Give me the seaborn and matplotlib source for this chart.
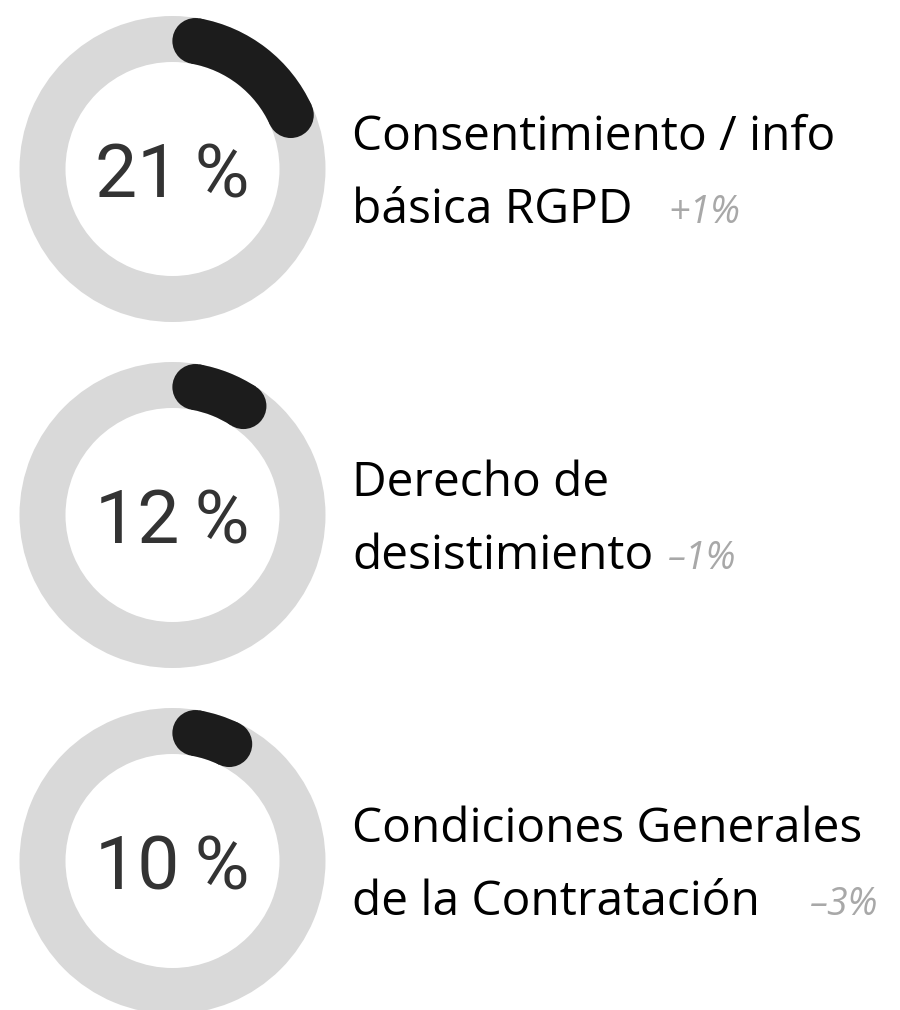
import numpy as np
import matplotlib
matplotlib.use("Agg")
import matplotlib.pyplot as plt
from matplotlib.patches import Wedge, Circle
import seaborn as sns

# ---- data ----
values = [21, 12, 10]
label_line1 = ["Consentimiento / info", "Derecho de", "Condiciones Generales"]
label_line2 = ["básica RGPD", "desistimiento", "de la Contratación"]
changes = ["+1%", "–1%", "–3%"]

sns.set_theme(style="white")
plt.rcParams["font.family"] = ["Open Sans", "DejaVu Sans"]

W, H = 900, 1010
fig = plt.figure(figsize=(W / 100, H / 100), dpi=100)
ax = fig.add_axes([0, 0, 1, 1])
ax.set_xlim(0, W)
ax.set_ylim(H, 0)
ax.axis("off")

ring_gray = "#d9d9d9"
arc_black = "#1c1c1c"
cx = 172.5
centers_y = [169, 515, 861]
r_out, ring_w = 153, 46
r_mid = r_out - ring_w / 2
cap = ring_w / 2
delta_x = [668, 668, 810]

for i, v in enumerate(values):
    cy = centers_y[i]
    ax.add_patch(Wedge((cx, cy), r_out, 0, 360, width=ring_w,
                       facecolor=ring_gray, edgecolor="none"))
    total = v / 100 * 360.0
    capdeg = np.degrees(cap / r_mid)
    a0, a1 = capdeg, total - capdeg
    ax.add_patch(Wedge((cx, cy), r_out, -90 + a0, -90 + a1, width=ring_w,
                       facecolor=arc_black, edgecolor="none"))
    for a in (a0, a1):
        t = np.radians(a)
        ax.add_patch(Circle((cx + r_mid * np.sin(t), cy - r_mid * np.cos(t)), cap,
                            facecolor=arc_black, edgecolor="none"))
    ax.text(cx, cy + 28, f"{v}\u2009%", ha="center", va="baseline",
            fontsize=54, color="#333333", family=["Roboto", "DejaVu Sans"])
    ax.text(352, cy - 19, label_line1[i], ha="left", va="baseline",
            fontsize=34.5, color="#000000")
    ax.text(352, cy + 54, label_line2[i], ha="left", va="baseline",
            fontsize=34.5, color="#000000")
    ax.text(delta_x[i], cy + 54, changes[i], ha="left", va="baseline",
            fontsize=27, color="#a8a8a8", style="italic")

fig.savefig("out.png", dpi=100, facecolor="white")
